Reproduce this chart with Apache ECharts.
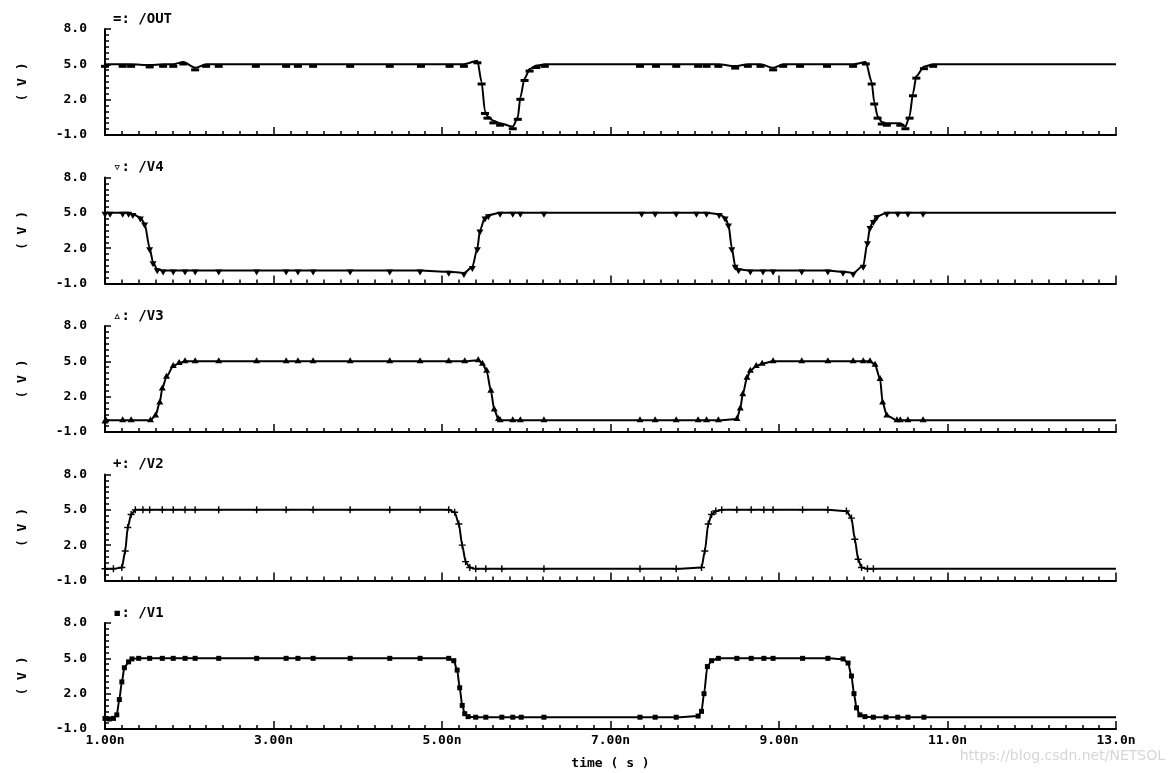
<!DOCTYPE html>
<html>
<head>
<meta charset="utf-8">
<script src="https://cdn.jsdelivr.net/npm/echarts@6/dist/echarts.min.js"></script>
<style>
html,body{margin:0;padding:0;background:#fff;}
#c{width:1175px;height:773px;}
</style>
</head>
<body>
<div id="c"></div>
<script>
// ---------- data (time in ns, voltage in V) ----------
const signalNames = ["=: /OUT", "\u25BF: /V4", "\u25B5: /V3", "+: /V2", "\u25AA: /V1"];
const xTickLabels = ["1.00n", "3.00n", "5.00n", "7.00n", "9.00n", "11.0n", "13.0n"];
const yTickLabels = ["-1.0", "2.0", "5.0", "8.0"];

const tOut = [1.00, 1.21, 1.31, 1.53, 1.69, 1.81, 1.93, 2.07, 2.20, 2.35, 2.79, 3.15, 3.29, 3.47, 3.91, 4.38, 4.75, 5.09, 5.26, 5.42, 5.47, 5.51, 5.54, 5.61, 5.69, 5.84, 5.90, 5.93, 5.98, 6.04, 6.12, 6.22, 7.35, 7.54, 7.78, 8.04, 8.14, 8.28, 8.48, 8.63, 8.78, 8.93, 9.05, 9.25, 9.57, 9.88, 10.03, 10.10, 10.13, 10.17, 10.22, 10.28, 10.44, 10.50, 10.55, 10.59, 10.63, 10.72, 10.83, 13.00];
const vOut = [5.0, 5.0, 5.0, 4.95, 5.0, 5.0, 5.2, 4.7, 5.0, 5.0, 5.0, 5.0, 5.0, 5.0, 5.0, 5.0, 5.0, 5.0, 5.0, 5.3, 3.5, 1.0, 0.6, 0.2, 0.0, -0.3, 0.5, 2.2, 3.8, 4.6, 4.9, 5.0, 5.0, 5.0, 5.0, 5.0, 5.0, 5.0, 4.85, 5.0, 5.0, 4.7, 5.0, 5.0, 5.0, 5.0, 5.2, 3.5, 1.8, 0.6, 0.1, 0.0, 0.0, -0.3, 0.6, 2.5, 4.0, 4.8, 5.0, 5.0];

const tV4 = [1.00, 1.06, 1.21, 1.28, 1.33, 1.42, 1.47, 1.53, 1.57, 1.62, 1.69, 1.81, 1.95, 2.07, 2.35, 2.80, 3.15, 3.29, 3.47, 3.91, 4.38, 4.74, 5.08, 5.26, 5.36, 5.42, 5.45, 5.51, 5.55, 5.69, 5.84, 5.93, 6.21, 7.37, 7.53, 7.78, 8.02, 8.14, 8.29, 8.36, 8.40, 8.44, 8.48, 8.52, 8.66, 8.81, 8.93, 9.27, 9.58, 9.76, 9.88, 10.00, 10.05, 10.08, 10.12, 10.16, 10.28, 10.41, 10.53, 10.71, 13.00];
const vV4 = [5.0, 5.0, 5.0, 5.0, 4.9, 4.6, 4.1, 2.0, 0.8, 0.2, 0.1, 0.1, 0.1, 0.1, 0.1, 0.1, 0.1, 0.1, 0.1, 0.1, 0.1, 0.1, 0.0, -0.1, 0.4, 2.0, 3.5, 4.6, 4.8, 5.0, 5.0, 5.0, 5.0, 5.0, 5.0, 5.0, 5.0, 5.0, 4.9, 4.6, 4.0, 2.0, 0.5, 0.2, 0.1, 0.1, 0.1, 0.1, 0.1, 0.0, -0.1, 0.5, 2.5, 3.8, 4.3, 4.7, 5.0, 5.0, 5.0, 5.0, 5.0];

const tV3 = [1.00, 1.01, 1.21, 1.31, 1.54, 1.60, 1.65, 1.68, 1.73, 1.81, 1.88, 1.95, 2.07, 2.35, 2.80, 3.15, 3.29, 3.47, 3.91, 4.38, 4.74, 5.08, 5.27, 5.43, 5.48, 5.53, 5.58, 5.62, 5.67, 5.69, 5.84, 5.93, 6.21, 7.35, 7.53, 7.78, 8.04, 8.14, 8.28, 8.50, 8.54, 8.57, 8.62, 8.66, 8.73, 8.80, 8.93, 9.27, 9.58, 9.88, 10.00, 10.08, 10.14, 10.20, 10.23, 10.28, 10.40, 10.44, 10.53, 10.71, 13.00];
const vV3 = [-0.1, 0.0, 0.0, 0.0, 0.0, 0.4, 1.5, 2.7, 3.7, 4.6, 4.85, 5.0, 5.0, 5.0, 5.0, 5.0, 5.0, 5.0, 5.0, 5.0, 5.0, 5.0, 5.0, 5.1, 4.8, 4.2, 2.5, 0.9, 0.1, 0.0, 0.0, 0.0, 0.0, 0.0, 0.0, 0.0, 0.0, 0.0, 0.0, 0.1, 1.0, 2.2, 3.6, 4.2, 4.6, 4.8, 5.0, 5.0, 5.0, 5.0, 5.0, 5.0, 4.7, 3.5, 1.5, 0.4, 0.0, 0.0, 0.0, 0.0, 0.0];

const tV2 = [1.00, 1.10, 1.20, 1.24, 1.27, 1.31, 1.36, 1.45, 1.53, 1.68, 1.81, 1.95, 2.07, 2.35, 2.80, 3.15, 3.47, 3.91, 4.38, 4.74, 5.08, 5.15, 5.20, 5.24, 5.28, 5.33, 5.40, 5.52, 5.71, 6.21, 7.35, 7.78, 8.08, 8.12, 8.16, 8.20, 8.25, 8.32, 8.50, 8.67, 8.82, 8.93, 9.28, 9.58, 9.80, 9.86, 9.90, 9.94, 9.98, 10.05, 10.12, 13.00];
const vV2 = [0.0, 0.0, 0.1, 1.5, 3.5, 4.6, 5.0, 5.0, 5.0, 5.0, 5.0, 5.0, 5.0, 5.0, 5.0, 5.0, 5.0, 5.0, 5.0, 5.0, 5.0, 4.8, 3.8, 2.0, 0.6, 0.1, 0.0, 0.0, 0.0, 0.0, 0.0, 0.0, 0.1, 1.5, 3.8, 4.6, 4.9, 5.0, 5.0, 5.0, 5.0, 5.0, 5.0, 5.0, 4.9, 4.3, 2.5, 0.8, 0.1, 0.0, 0.0, 0.0];

const tV1 = [1.00, 1.05, 1.10, 1.14, 1.17, 1.20, 1.23, 1.28, 1.32, 1.40, 1.53, 1.68, 1.81, 1.95, 2.07, 2.35, 2.80, 3.15, 3.29, 3.47, 3.91, 4.38, 4.74, 5.08, 5.14, 5.18, 5.21, 5.24, 5.27, 5.31, 5.40, 5.52, 5.71, 5.84, 5.94, 6.21, 7.35, 7.53, 7.78, 8.04, 8.08, 8.11, 8.15, 8.20, 8.28, 8.50, 8.67, 8.82, 8.93, 9.28, 9.58, 9.76, 9.82, 9.86, 9.89, 9.92, 9.96, 10.02, 10.12, 10.27, 10.41, 10.53, 10.72, 13.00];
const vV1 = [-0.1, -0.15, -0.1, 0.2, 1.5, 3.0, 4.2, 4.7, 4.95, 5.0, 5.0, 5.0, 5.0, 5.0, 5.0, 5.0, 5.0, 5.0, 5.0, 5.0, 5.0, 5.0, 5.0, 5.0, 4.8, 4.0, 2.5, 1.0, 0.3, 0.05, 0.0, 0.0, 0.0, 0.0, 0.0, 0.0, 0.0, 0.0, 0.0, 0.1, 0.5, 2.0, 4.3, 4.8, 5.0, 5.0, 5.0, 5.0, 5.0, 5.0, 5.0, 4.95, 4.6, 3.5, 2.0, 0.8, 0.2, 0.05, 0.0, 0.0, 0.0, 0.0, 0.0, 0.0];

const signalTimes = [tOut, tV4, tV3, tV2, tV1];
const signalValues = [vOut, vV4, vV3, vV2, vV1];

// ---------- styling ----------
const FONT = "DejaVu Sans Mono";
const plusPath = 'path://M4,0h2v4h4v2h-4v4h-2v-4h-4v-2h4z';
const markerStyles = [
  {symbol: 'rect', size: [8, 3], offset: [0, 2]},
  {symbol: 'triangle', size: [7, 6], offset: [0, 2], rotate: 180},
  {symbol: 'triangle', size: [7, 6], offset: [0, -1], rotate: 0},
  {symbol: plusPath, size: [7, 7], offset: [0, 0], rotate: 0},
  {symbol: 'rect', size: [5, 5], offset: [0, 0], rotate: 0}
];

const N = 5;
const top0 = 29, step = 148.5, h = 106;
const grids = [], xAxes = [], yAxes = [], series = [], titles = [];

for (let i = 0; i < N; i++) {
  const top = top0 + i * step;
  grids.push({left: 105, right: 59, top: top, height: h});
  const last = i === N - 1;
  xAxes.push({
    type: 'value', gridIndex: i, min: 1, max: 13, interval: 2,
    axisLine: {show: true, onZero: false, lineStyle: {color: '#000', width: 2}},
    axisTick: {show: true, inside: true, length: 8, lineStyle: {color: '#000', width: 1.5}},
    minorTick: {show: true, splitNumber: 10, length: 4, lineStyle: {color: '#000', width: 1.5}},
    splitLine: {show: false}, minorSplitLine: {show: false},
    axisLabel: {
      show: last, color: '#000', fontFamily: FONT, fontWeight: 'bold', fontSize: 13, margin: 5,
      formatter: v => xTickLabels[Math.round((v - 1) / 2)] || ''
    },
    name: last ? 'time ( s )' : '', nameLocation: 'middle', nameGap: 28,
    nameTextStyle: {color: '#000', fontFamily: FONT, fontWeight: 'bold', fontSize: 13}
  });
  yAxes.push({
    type: 'value', gridIndex: i, min: -1, max: 8, interval: 3,
    axisLine: {show: true, onZero: false, lineStyle: {color: '#000', width: 2}},
    axisTick: {show: true, inside: true, length: 6, lineStyle: {color: '#000', width: 1.5}},
    minorTick: {show: true, splitNumber: 6, length: 4, lineStyle: {color: '#000', width: 1.5}},
    splitLine: {show: false}, minorSplitLine: {show: false},
    axisLabel: {
      color: '#000', fontFamily: FONT, fontWeight: 'bold', fontSize: 13, margin: 18,
      formatter: v => yTickLabels[Math.round((v + 1) / 3)] || ''
    },
    name: '( V )', nameLocation: 'middle', nameGap: 76, nameRotate: 90,
    nameTextStyle: {color: '#000', fontFamily: FONT, fontWeight: 'bold', fontSize: 13}
  });
  titles.push({
    text: signalNames[i], left: 108, top: top - 22,
    textStyle: {color: '#000', fontFamily: FONT, fontWeight: 'bold', fontSize: 14}
  });
  const ms = markerStyles[i];
  const times = signalTimes[i], vals = signalValues[i];
  const data = times.map((t, k) => k === times.length - 1
    ? {value: [t, vals[k]], symbol: 'none'}
    : [t, vals[k]]);
  series.push({
    type: 'line', xAxisIndex: i, yAxisIndex: i, data: data,
    smooth: 0.25, smoothMonotone: 'x',
    showSymbol: true, showAllSymbol: true,
    symbol: ms.symbol, symbolSize: ms.size, symbolOffset: ms.offset, symbolRotate: ms.rotate || 0,
    lineStyle: {color: '#000', width: 2},
    itemStyle: {color: '#000', borderWidth: 0},
    silent: true, animation: false
  });
}

const chart = echarts.init(document.getElementById('c'), null, {renderer: 'canvas'});
chart.setOption({
  backgroundColor: '#fff',
  animation: false,
  title: titles,
  grid: grids,
  xAxis: xAxes,
  yAxis: yAxes,
  series: series,
  graphic: [{
    type: 'text', right: 10, bottom: 10,
    style: {text: 'https://blog.csdn.net/NETSOL', fill: '#d6d6d6', font: '14px "DejaVu Sans"'}
  }]
});
</script>
</body>
</html>
